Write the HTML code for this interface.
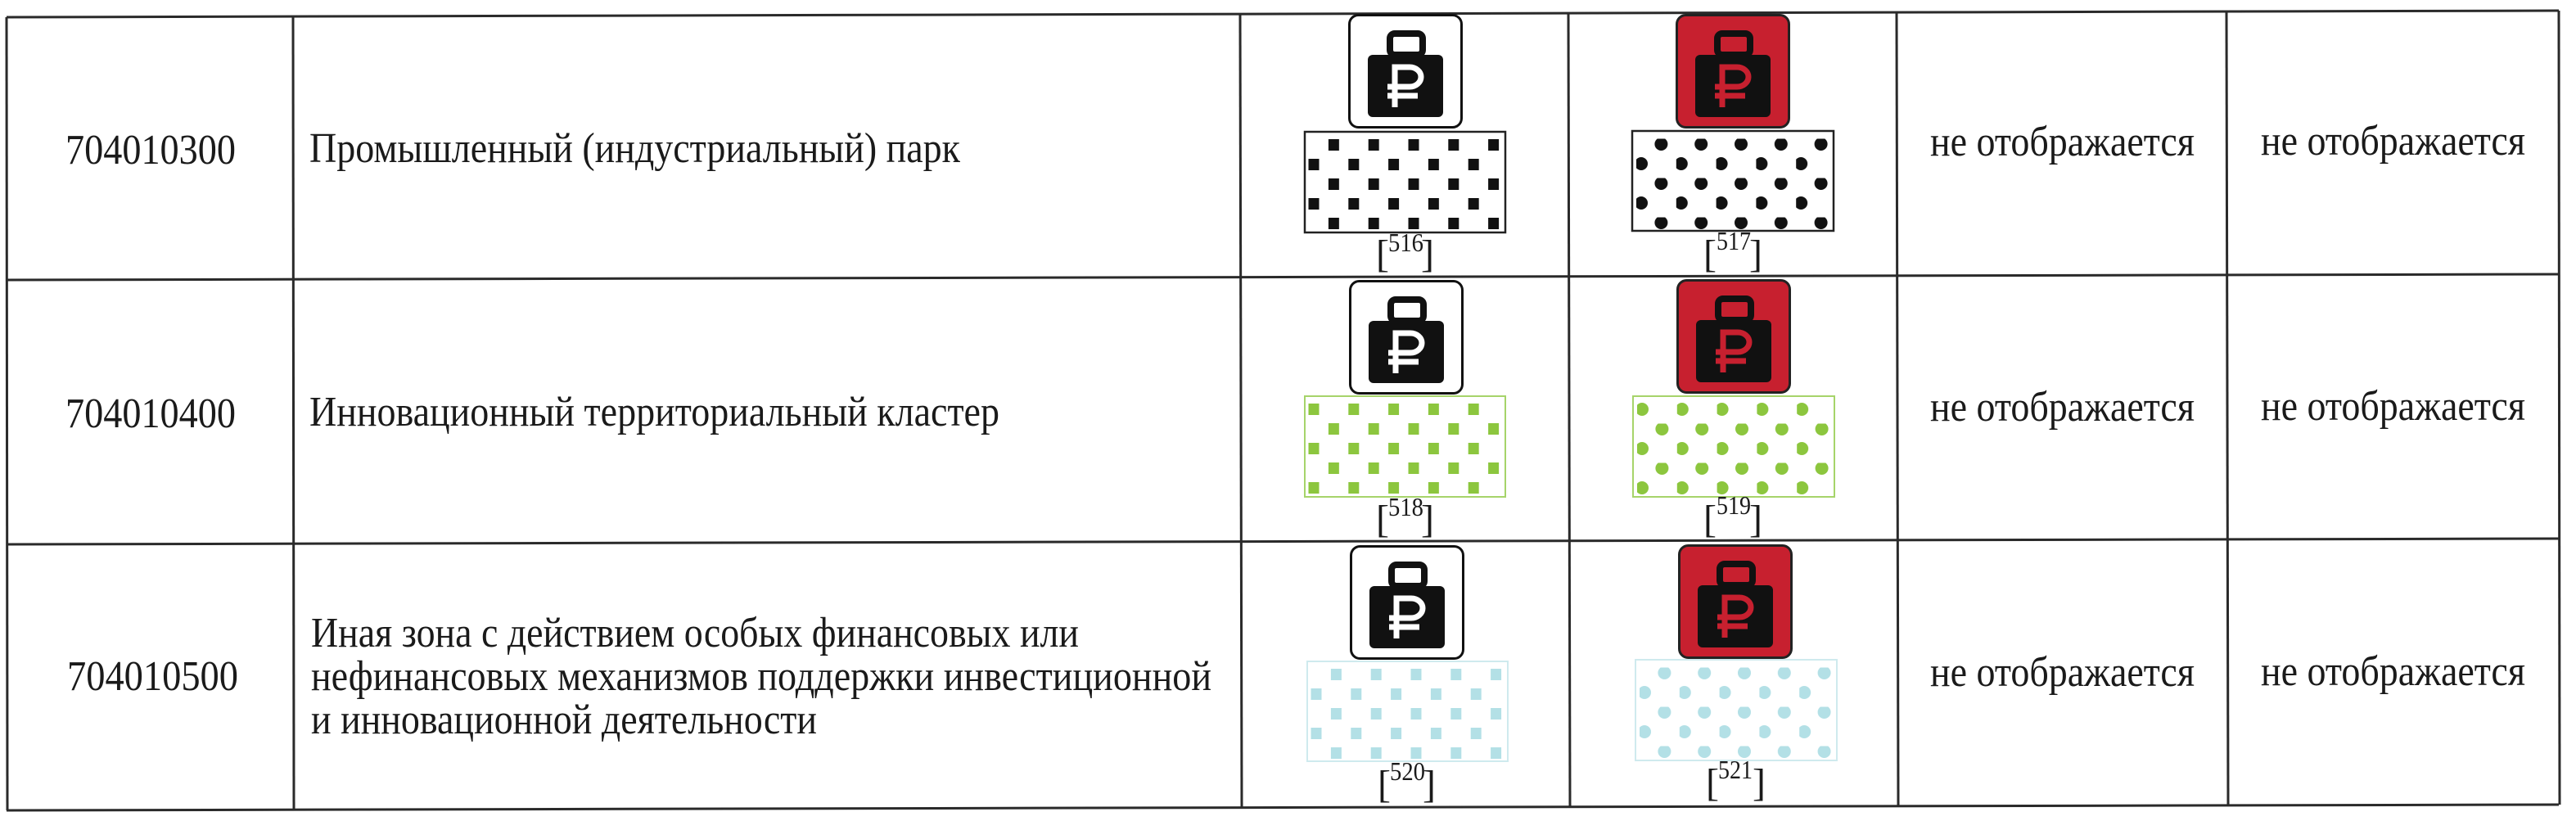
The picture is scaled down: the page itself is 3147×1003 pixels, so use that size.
<!DOCTYPE html>
<html><head><meta charset="utf-8"><style>
html,body{margin:0;padding:0;background:#fff;}
svg{display:block;}
text{font-family:"Liberation Serif",serif;fill:#1a1a1a;}
</style></head><body>
<svg width="3147" height="1003" viewBox="0 0 3147 1003" xmlns="http://www.w3.org/2000/svg">
<defs>
 <pattern id="p1w" patternUnits="userSpaceOnUse" x="1598.5" y="170" width="48.8" height="48"><rect x="24.4" y="0" width="13" height="14" fill="#111"/><rect x="0" y="24" width="13" height="14" fill="#111"/></pattern>
 <pattern id="p1r" patternUnits="userSpaceOnUse" x="1999" y="169.5" width="48.8" height="48"><circle cx="30.4" cy="6.5" r="8" fill="#111"/><circle cx="6" cy="30.5" r="8" fill="#111"/></pattern>
 <pattern id="p2w" patternUnits="userSpaceOnUse" x="1598.5" y="469" width="48.8" height="48"><rect x="24.4" y="0" width="13" height="14" fill="#8cc63e"/><rect x="0" y="24" width="13" height="14" fill="#8cc63e"/></pattern>
 <pattern id="p2r" patternUnits="userSpaceOnUse" x="2000" y="469.5" width="48.8" height="48"><circle cx="30.4" cy="6.5" r="8" fill="#8cc63e"/><circle cx="6" cy="30.5" r="8" fill="#8cc63e"/></pattern>
 <pattern id="p3w" patternUnits="userSpaceOnUse" x="1601.5" y="817" width="48.8" height="48"><rect x="24.4" y="0" width="13" height="14" fill="#b3e0e6"/><rect x="0" y="24" width="13" height="14" fill="#b3e0e6"/></pattern>
 <pattern id="p3r" patternUnits="userSpaceOnUse" x="2003" y="815.5" width="48.8" height="48"><circle cx="30.4" cy="6.5" r="8" fill="#b3e0e6"/><circle cx="6" cy="30.5" r="8" fill="#b3e0e6"/></pattern>
 <g id="bagw">
  <rect x="1.5" y="1.5" width="137" height="137" rx="11" fill="#fff" stroke="#111" stroke-width="3"/>
  <rect x="51" y="24" width="40" height="26" rx="6" fill="none" stroke="#111" stroke-width="8"/>
  <rect x="24" y="50" width="92" height="76" rx="6" fill="#111"/>
  <path d="M57,114 V65 H75 A14,12 0 0 1 75,89 H48 M48,100 H85" fill="none" stroke="#fff" stroke-width="7"/>
 </g>
 <g id="bagr">
  <rect x="1.5" y="1.5" width="137" height="137" rx="11" fill="#c7202f" stroke="#222" stroke-width="3"/>
  <rect x="51" y="24" width="40" height="26" rx="6" fill="none" stroke="#111" stroke-width="8"/>
  <rect x="24" y="50" width="92" height="76" rx="6" fill="#111"/>
  <path d="M57,114 V65 H75 A14,12 0 0 1 75,89 H48 M48,100 H85" fill="none" stroke="#c7202f" stroke-width="7"/>
 </g>
</defs>

<g stroke="#2a2a2a" stroke-width="3" fill="none">
 <line x1="8" y1="21" x2="3126" y2="13"/>
 <line x1="8" y1="342" x2="3126" y2="335"/>
 <line x1="8" y1="665" x2="3126" y2="658"/>
 <line x1="8" y1="990" x2="3126" y2="983"/>
 <line x1="8" y1="21" x2="9" y2="990"/>
 <line x1="358" y1="20" x2="359" y2="990"/>
 <line x1="1515" y1="17" x2="1517" y2="987"/>
 <line x1="1916" y1="16" x2="1918" y2="986"/>
 <line x1="2317" y1="15" x2="2319" y2="985"/>
 <line x1="2720" y1="14" x2="2722" y2="984"/>
 <line x1="3126" y1="13" x2="3127" y2="983"/>
</g>

<g font-size="52">
 <text x="80" y="200" textLength="208" lengthAdjust="spacingAndGlyphs">704010300</text>
 <text x="378" y="198" textLength="795" lengthAdjust="spacingAndGlyphs">Промышленный (индустриальный) парк</text>
 <text x="80" y="522" textLength="208" lengthAdjust="spacingAndGlyphs">704010400</text>
 <text x="378" y="520" textLength="843" lengthAdjust="spacingAndGlyphs">Инновационный территориальный кластер</text>
 <text x="82" y="843" textLength="209" lengthAdjust="spacingAndGlyphs">704010500</text>
 <text x="380" y="790" textLength="938" lengthAdjust="spacingAndGlyphs">Иная зона с действием особых финансовых или</text>
 <text x="380" y="843" textLength="1100" lengthAdjust="spacingAndGlyphs">нефинансовых механизмов поддержки инвестиционной</text>
 <text x="380" y="896" textLength="618" lengthAdjust="spacingAndGlyphs">и инновационной деятельности</text>

 <text x="2358" y="190" textLength="323" lengthAdjust="spacingAndGlyphs">не отображается</text>
 <text x="2762" y="189" textLength="323" lengthAdjust="spacingAndGlyphs">не отображается</text>
 <text x="2358" y="514" textLength="323" lengthAdjust="spacingAndGlyphs">не отображается</text>
 <text x="2762" y="513" textLength="323" lengthAdjust="spacingAndGlyphs">не отображается</text>
 <text x="2358" y="838" textLength="323" lengthAdjust="spacingAndGlyphs">не отображается</text>
 <text x="2762" y="837" textLength="323" lengthAdjust="spacingAndGlyphs">не отображается</text>
</g>

<use href="#bagw" x="1647" y="17"/>
<use href="#bagr" x="2047" y="17"/>
<use href="#bagw" x="1648" y="342"/>
<use href="#bagr" x="2048" y="341"/>
<use href="#bagw" x="1649" y="666"/>
<use href="#bagr" x="2050" y="665"/>

<rect x="1594" y="161" width="245" height="123" fill="url(#p1w)" stroke="#222" stroke-width="2.5"/>
<rect x="1994" y="160" width="246" height="122" fill="url(#p1r)" stroke="#222" stroke-width="2.5"/>
<rect x="1594" y="484" width="245" height="123" fill="url(#p2w)" stroke="#a6d46a" stroke-width="2"/>
<rect x="1995" y="484" width="246" height="123" fill="url(#p2r)" stroke="#a6d46a" stroke-width="2"/>
<rect x="1597" y="808" width="245" height="122" fill="url(#p3w)" stroke="#cfeaee" stroke-width="2"/>
<rect x="1998" y="806" width="246" height="123" fill="url(#p3r)" stroke="#cfeaee" stroke-width="2"/>

<g>
 <text x="1681" y="326" font-size="48">[</text><text x="1696" y="307" font-size="32" textLength="43" lengthAdjust="spacingAndGlyphs">516</text><text x="1736" y="326" font-size="48">]</text>
 <text x="2081" y="326" font-size="48">[</text><text x="2097" y="305" font-size="32" textLength="42" lengthAdjust="spacingAndGlyphs">517</text><text x="2137" y="326" font-size="48">]</text>
 <text x="1681" y="650" font-size="48">[</text><text x="1696" y="630" font-size="32" textLength="43" lengthAdjust="spacingAndGlyphs">518</text><text x="1736" y="650" font-size="48">]</text>
 <text x="2081" y="650" font-size="48">[</text><text x="2097" y="628" font-size="32" textLength="42" lengthAdjust="spacingAndGlyphs">519</text><text x="2137" y="650" font-size="48">]</text>
 <text x="1683" y="974" font-size="48">[</text><text x="1698" y="953" font-size="32" textLength="43" lengthAdjust="spacingAndGlyphs">520</text><text x="1738" y="974" font-size="48">]</text>
 <text x="2084" y="972" font-size="48">[</text><text x="2099" y="951" font-size="32" textLength="42" lengthAdjust="spacingAndGlyphs">521</text><text x="2141" y="972" font-size="48">]</text>
</g>
</svg>
</body></html>
